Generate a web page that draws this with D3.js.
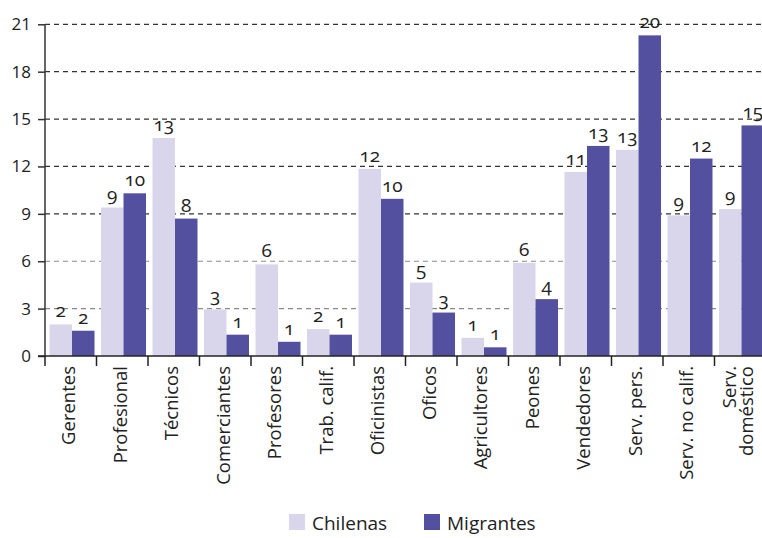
<!DOCTYPE html>
<html>
<head>
<meta charset="utf-8">
<script src="https://cdn.jsdelivr.net/npm/d3@7"></script>
<style>
  html, body { margin: 0; padding: 0; background: #fff; }
  svg { display: block; font-family: "Open Sans", "Noto Sans", sans-serif; }
</style>
</head>
<body>
<svg id="chart" width="762" height="538"></svg>
<script>
const categories = [
  ["Gerentes"], ["Profesional"], ["Técnicos"], ["Comerciantes"], ["Profesores"],
  ["Trab. calif."], ["Oficinistas"], ["Oficos"], ["Agricultores"], ["Peones"],
  ["Vendedores"], ["Serv. pers."], ["Serv. no calif."], ["Serv.", "doméstico"]
];
const seriesNames = ["Chilenas", "Migrantes"];
const chilenas  = [2.0, 9.4, 13.8, 2.95, 5.8, 1.7, 11.85, 4.65, 1.15, 5.9, 11.65, 13.05, 8.9, 9.3];
const migrantes = [1.6, 10.3, 8.7, 1.35, 0.9, 1.35, 9.95, 2.75, 0.55, 3.6, 13.3, 20.3, 12.5, 14.6];
const chilenasLabels  = ["2", "9", "13", "3", "6", "2", "12", "5", "1", "6", "11", "13", "9", "9"];
const migrantesLabels = ["2", "10", "8", "1", "1", "1", "10", "3", "1", "4", "13", "20", "12", "15"];
const yTicks = [0, 3, 6, 9, 12, 15, 18, 21];

const colors = { Chilenas: "#d9d5ea", Migrantes: "#5350a0" };

const svg = d3.select("#chart");
const mLeft = 45, mRight = 766, mTop = 24.3, mBottom = 356;

const x0 = d3.scaleBand().domain(d3.range(categories.length)).range([mLeft, mRight]).padding(0);
const x1 = d3.scaleBand().domain(seriesNames).range([4.5, 49.5]).padding(0);
const y = d3.scaleLinear().domain([0, 21]).range([mBottom, mTop]);

// gridlines
svg.append("g").selectAll("line")
  .data(yTicks.filter(d => d > 0))
  .join("line")
  .attr("x1", mLeft).attr("x2", 762)
  .attr("y1", d => y(d)).attr("y2", d => y(d))
  .attr("stroke", d => d <= 6 ? "#8a8a8a" : "#333")
  .attr("stroke-width", 1.2)
  .attr("stroke-dasharray", "5,4");

const data = seriesNames.map((s, si) => ({
  name: s,
  values: (si === 0 ? chilenas : migrantes),
  labels: (si === 0 ? chilenasLabels : migrantesLabels)
}));

// bars
const groups = svg.append("g").selectAll("g")
  .data(data).join("g").attr("fill", d => colors[d.name]);

groups.selectAll("rect")
  .data(d => d.values.map((v, i) => ({ v, i, s: d.name })))
  .join("rect")
  .attr("x", d => x0(d.i) + x1(d.s))
  .attr("width", x1.bandwidth())
  .attr("y", d => y(d.v))
  .attr("height", d => y(0) - y(d.v));

// value labels
svg.append("g").selectAll("g")
  .data(data).join("g")
  .selectAll("text")
  .data(d => d.values.map((v, i) => ({ v, i, s: d.name, t: d.labels[i] })))
  .join("text")
  .attr("x", d => x0(d.i) + x1(d.s) + x1.bandwidth() / 2)
  .attr("y", d => y(d.v) - 7)
  .attr("text-anchor", "middle")
  .attr("font-size", 19)
  .style("font-variant-numeric", "oldstyle-nums")
  .attr("fill", "#222")
  .text(d => d.t);

// y axis
const yAxis = d3.axisLeft(y).tickValues(yTicks).tickSize(7).tickPadding(7).tickFormat(d3.format("d"));
const ga = svg.append("g").attr("transform", `translate(${mLeft},0)`).call(yAxis);
ga.select(".domain").attr("stroke", "#333").attr("stroke-width", 1.5).attr("d", `M0,${mTop}V${mBottom}`);
ga.selectAll(".tick line").attr("stroke", "#333").attr("stroke-width", 1.5);
ga.selectAll(".tick text")
  .attr("font-size", 17).attr("fill", "#222")
  .style("font-family", "'Open Sans', sans-serif");

// x axis (band boundaries)
const gx = svg.append("g");
gx.append("line").attr("x1", mLeft - 7).attr("x2", 762).attr("y1", mBottom).attr("y2", mBottom)
  .attr("stroke", "#222").attr("stroke-width", 1.5);
gx.selectAll("line.tk")
  .data(d3.range(categories.length))
  .join("line").attr("class", "tk")
  .attr("x1", d => x0(d)).attr("x2", d => x0(d))
  .attr("y1", mBottom).attr("y2", mBottom + 10)
  .attr("stroke", "#222").attr("stroke-width", 1.5);

// category labels
const cl = gx.selectAll("g.cl")
  .data(categories)
  .join("g").attr("class", "cl")
  .attr("transform", (d, i) => {
    const cx = x0(i) + x0.bandwidth() / 2;
    const off = d.length > 1 ? -4 : 4.5;
    return `translate(${cx + off},366) rotate(-90)`;
  });
cl.selectAll("text")
  .data(d => d.map((t, k) => ({ t, k })))
  .join("text")
  .attr("x", 0)
  .attr("y", d => d.k * 16.5)
  .attr("text-anchor", "end")
  .attr("font-size", 18.5)
  .attr("fill", "#222")
  .text(d => d.t);

// legend
const legend = svg.append("g");
const legX = [289, 424];
seriesNames.forEach((s, i) => {
  legend.append("rect").attr("x", legX[i]).attr("y", 514).attr("width", 16).attr("height", 16).attr("fill", colors[s]);
  legend.append("text").attr("x", legX[i] + 23).attr("y", 530)
    .attr("font-size", 19).attr("fill", "#222").text(s);
});
</script>
</body>
</html>
